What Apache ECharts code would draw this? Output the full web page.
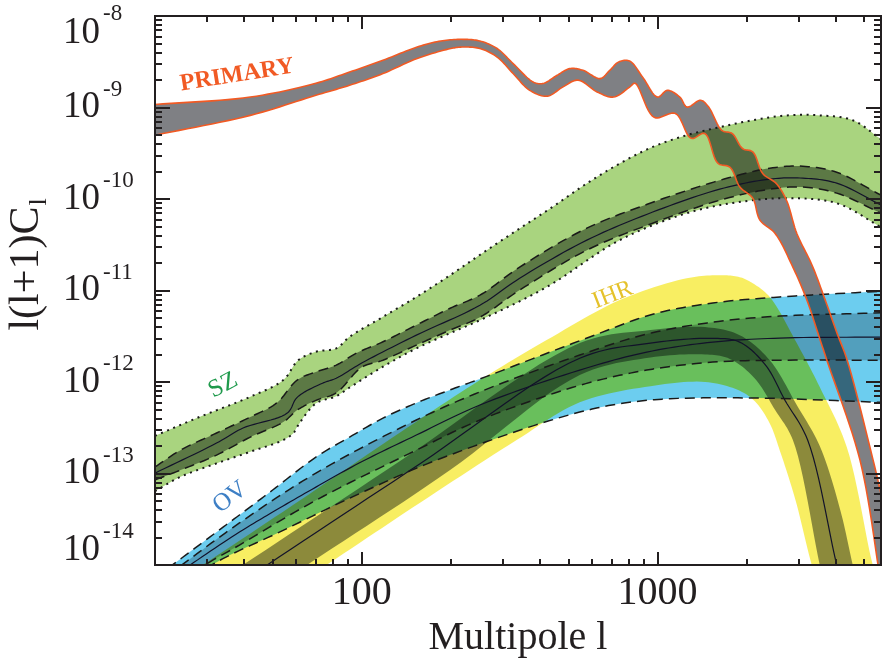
<!DOCTYPE html>
<html><head><meta charset="utf-8">
<script src="https://cdn.jsdelivr.net/npm/echarts@6/dist/echarts.min.js"></script>
<style>html,body{margin:0;padding:0;background:#fff}#c{width:882px;height:664px}</style>
</head><body><div id="c"></div>
<script>
// ---------- data: [multipole l, l(l+1)C_l] ----------
const primaryUpper = [[20,1.08e-9],[42,1.30e-9],[70,1.84e-9],[91,2.44e-9],[118,3.28e-9],[154,4.58e-9],[185,5.33e-9],[220,5.56e-9],[251,5.33e-9],[287,4.41e-9],[325,3.02e-9],[380,1.90e-9],[410,1.83e-9],[458,2.25e-9],[505,2.66e-9],[560,2.55e-9],[640,2.07e-9],[690,2.55e-9],[740,3.15e-9],[805,3.22e-9],[890,2.16e-9],[1000,1.30e-9],[1080,1.54e-9],[1190,1.30e-9],[1260,1.01e-9],[1400,1.20e-9],[1490,1.01e-9],[1650,5.63e-10],[1790,5.19e-10],[1940,3.56e-10],[2100,3.27e-10],[2270,1.90e-10],[2520,1.48e-10],[2730,9.7e-11],[2960,4.2e-11],[3330,1.9e-11],[3690,7.9e-12],[4050,3.4e-12],[4380,1.73e-12],[5360,1.4e-13],[5700,6e-14]];
const primaryLower = [[20,4.98e-10],[42,8.2e-10],[70,1.36e-9],[91,1.75e-9],[118,2.35e-9],[154,3.43e-9],[200,4.41e-9],[220,4.58e-9],[251,4.41e-9],[287,3.56e-9],[325,2.35e-9],[370,1.54e-9],[424,1.33e-9],[478,1.67e-9],[539,1.99e-9],[625,1.48e-9],[711,1.30e-9],[805,1.67e-9],[840,1.84e-9],[975,7.8e-10],[1150,8.6e-10],[1300,4.6e-10],[1445,5.2e-10],[1600,2.46e-10],[1760,2.22e-10],[1900,1.35e-10],[2100,1.02e-10],[2220,5.9e-11],[2500,4.2e-11],[2870,1.8e-11],[3200,7.9e-12],[3490,3.4e-12],[3740,1.73e-12],[4840,1.4e-13],[5570,1e-14],[5700,6e-15]];

const szOuterUpper = [[20,2.58e-13],[28.4,4.17e-13],[42,6.9e-13],[54.3,1.05e-12],[61,1.73e-12],[70,2.14e-12],[82,2.33e-12],[91,3.12e-12],[118,5.15e-12],[153,8.5e-12],[199,1.47e-11],[265,2.76e-11],[342,4.76e-11],[442,8.2e-11],[577,1.48e-10],[745,2.44e-10],[964,3.71e-10],[1256,4.98e-10],[1624,6.1e-10],[2099,7.26e-10],[2736,8.2e-10],[3538,8.2e-10],[4574,7.26e-10],[5700,4.5e-10]];
const szOuterLower = [[20,6.4e-14],[24.4,9.2e-14],[32.3,1.29e-13],[42,1.73e-13],[54.3,2.32e-13],[58.8,2.77e-13],[60.5,3.24e-13],[70,5.84e-13],[82,7.0e-13],[91,8.7e-13],[118,1.47e-12],[153,2.33e-12],[199,3.42e-12],[251,4.74e-12],[422,1.09e-11],[745,3.55e-11],[1256,7.0e-11],[1858,9.2e-11],[2736,1.02e-10],[4038,9.0e-11],[5700,4.92e-11]];
const szInnerUpper = [[20,1.18e-13],[24.4,1.80e-13],[32.3,2.77e-13],[42,4.14e-13],[51.6,5.9e-13],[60.5,1.05e-12],[70,1.29e-12],[82,1.53e-12],[96,2.07e-12],[118,2.75e-12],[153,4.19e-12],[199,6.4e-12],[251,8.9e-12],[342,1.80e-11],[577,4.8e-11],[964,9.2e-11],[1624,1.60e-10],[2397,2.17e-10],[3099,2.28e-10],[4038,1.96e-10],[5700,1.10e-10]];
const szInnerLower = [[20,8.5e-14],[24.4,1.09e-13],[32.3,1.59e-13],[42,2.50e-13],[54.3,3.65e-13],[60.5,4.93e-13],[70,6.3e-13],[82,7.6e-13],[100,1.45e-12],[118,1.73e-12],[153,2.53e-12],[199,3.69e-12],[251,5.1e-12],[342,1.01e-11],[577,2.76e-11],[964,5.44e-11],[1624,9.7e-11],[2397,1.28e-10],[3099,1.35e-10],[4038,1.16e-10],[5700,7.0e-11]];
const szCenter = [[20,1.01e-13],[32.3,2.15e-13],[39.7,3.14e-13],[56,4.57e-13],[60.5,6.8e-13],[73.7,9.7e-13],[82,1.10e-12],[100,1.61e-12],[153,3.25e-12],[251,6.9e-12],[342,1.36e-11],[577,3.55e-11],[964,7.2e-11],[1624,1.28e-10],[2397,1.65e-10],[3099,1.69e-10],[4038,1.49e-10],[5700,8.6e-11]];

const ovOuterUpper = [[20,7.2e-15],[30,1.92e-14],[38.6,3.52e-14],[50,6.6e-14],[70,1.51e-13],[91,2.50e-13],[118,4.03e-13],[153,5.9e-13],[199,8.2e-13],[251,1.08e-12],[590,3.1e-12],[964,5.5e-12],[1538,7.3e-12],[2590,8.5e-12],[5700,9.8e-12]];
const ovInnerUpper = [[20,6.05e-15],[38.6,2.88e-14],[70,1.01e-13],[153,3.84e-13],[251,7.8e-13],[546,1.97e-12],[920,3.34e-12],[1538,4.51e-12],[2590,5.25e-12],[5700,5.7e-12]];
const ovCenter = [[20,5.3e-15],[26.3,1e-14],[38.6,2.29e-14],[50,3.79e-14],[70,7.1e-14],[98,1.30e-13],[153,2.63e-13],[251,5.6e-13],[546,1.35e-12],[920,2.12e-12],[1538,2.73e-12],[2590,3.02e-12],[5700,3.1e-12]];
const ovInnerLower = [[20,4.15e-15],[29.5,1e-14],[38.6,1.65e-14],[70,5.1e-14],[153,1.80e-13],[251,3.84e-13],[546,9.2e-13],[920,1.35e-12],[1538,1.65e-12],[2590,1.73e-12],[5700,1.73e-12]];
const ovOuterLower = [[20,3.5e-15],[31.1,1.0e-14],[52.9,2.3e-14],[98,6.0e-14],[184,1.45e-13],[546,4.69e-13],[920,6.3e-13],[2004,6.7e-13],[5700,6.0e-13]];

const ihrOuterUpper = [[20,4.5e-15],[29,1e-14],[61.9,5.1e-14],[134,2.77e-13],[251,1.05e-12],[422,2.87e-12],[745,7.85e-12],[1256,1.36e-11],[1624,1.47e-11],[1897,1.40e-11],[2099,1.20e-11],[2397,8.5e-12],[2958,2.66e-12],[3538,8.8e-13],[4365,1.95e-13],[5346,1e-14],[5700,5.3e-15]];
const ihrInnerUpper = [[20,2.4e-15],[39.6,1e-14],[134,1.35e-13],[546,2.66e-12],[947,3.69e-12],[1450,3.98e-12],[1897,3.25e-12],[2397,1.73e-12],[2958,5.6e-13],[3538,2.0e-13],[4150,4e-14],[4574,1e-14],[5000,3e-15]];
const ihrCenter = [[20,1.5e-15],[47.9,1e-14],[157,1.27e-13],[546,1.82e-12],[947,2.66e-12],[1538,3.0e-12],[1897,2.73e-12],[2320,1.53e-12],[2700,6.3e-13],[3220,2.32e-13],[4038,1e-14],[4500,2.5e-15]];
const ihrInnerLower = [[20,8.1e-16],[65.3,1e-14],[199,1.09e-13],[546,1.19e-12],[947,1.85e-12],[1450,2.0e-12],[1750,1.8e-12],[2130,1.1e-12],[2500,4.93e-13],[2870,2.32e-13],[3538,1e-14],[3900,2.5e-15]];
const ihrOuterLower = [[20,5.8e-16],[76,1e-14],[157,4.76e-14],[334,2.32e-13],[546,6.0e-13],[947,9.0e-13],[1450,1.0e-12],[1900,8.0e-13],[2150,6.0e-13],[2400,3.5e-13],[2590,1.8e-13],[2930,5.1e-14],[3325,1e-14],[3800,2.5e-15]];

// axis ticks / labels
const xMajor = [100, 1000];
const xMinor = [30,40,50,60,70,80,90,200,300,400,500,600,700,800,900,2000,3000,4000,5000];
const yMajor = [1e-14,1e-13,1e-12,1e-11,1e-10,1e-9,1e-8];
const yMinor = [];
[-14,-13,-12,-11,-10,-9].forEach(e => { for (let m = 2; m <= 9; m++) yMinor.push(m * Math.pow(10, e)); });
const xTitle = 'Multipole l';
const yTitle = ['l(l+1)C', 'l'];
const curveLabels = [
  {text:'PRIMARY', l:37.9, v:2.25e-9, color:'#f15a24', size:24, bold:true, rot:9},
  {text:'SZ', l:34, v:9.2e-13, color:'#1f9a4c', size:25, rot:28},
  {text:'OV', l:35.9, v:5.5e-14, color:'#3d7fc5', size:25, rot:38},
  {text:'IHR', l:706, v:8.9e-12, color:'#e5c22b', size:24, rot:21}
];

// ---------- rendering helpers ----------
const SERIF = "'Liberation Serif','Times New Roman',serif";
const INK = '#231f20';
function spline(pts, seg) {
  if (pts.length < 3) return pts;
  const out = [];
  const d = (a, b) => Math.max(Math.pow(Math.hypot(b[0]-a[0], b[1]-a[1]), 0.5), 1e-4);
  const mix = (a, b, wa, wb) => [a[0]*wa + b[0]*wb, a[1]*wa + b[1]*wb];
  for (let i = 0; i < pts.length - 1; i++) {
    const p1 = pts[i], p2 = pts[i+1];
    const p0 = pts[i-1] || [2*p1[0]-p2[0], 2*p1[1]-p2[1]];
    const p3 = pts[i+2] || [2*p2[0]-p1[0], 2*p2[1]-p1[1]];
    const t0 = 0, t1 = d(p0,p1), t2 = t1 + d(p1,p2), t3 = t2 + d(p2,p3);
    for (let k = 0; k < seg; k++) {
      const t = t1 + (t2 - t1) * k / seg;
      const A1 = mix(p0, p1, (t1-t)/(t1-t0), (t-t0)/(t1-t0));
      const A2 = mix(p1, p2, (t2-t)/(t2-t1), (t-t1)/(t2-t1));
      const A3 = mix(p2, p3, (t3-t)/(t3-t2), (t-t2)/(t3-t2));
      const B1 = mix(A1, A2, (t2-t)/(t2-t0), (t-t0)/(t2-t0));
      const B2 = mix(A2, A3, (t3-t)/(t3-t1), (t-t1)/(t3-t1));
      out.push(mix(B1, B2, (t2-t)/(t2-t1), (t-t1)/(t2-t1)));
    }
  }
  out.push(pts[pts.length-1]);
  return out;
}
function px(api, arr) { return spline(arr.map(p => api.coord(p)), 12); }
function bandFill(upper, lower, color) {
  return {
    type:'custom', coordinateSystem:'cartesian2d', clip:true, silent:true, blendMode:'multiply',
    data: upper.concat(lower.slice().reverse()),
    renderItem(params, api) {
      if (params.dataIndex !== 0) return null;
      const up = px(api, upper), lo = px(api, lower).reverse();
      return {type:'polygon', shape:{points: up.concat(lo)}, style:{fill: color}};
    }
  };
}
function curve(arr, style) {
  return {
    type:'custom', coordinateSystem:'cartesian2d', clip:true, silent:true, data: arr,
    renderItem(params, api) {
      if (params.dataIndex !== 0) return null;
      return {type:'polyline', shape:{points: px(api, arr)},
        style: Object.assign({fill:'none', stroke:'#111', lineWidth:1.2}, style)};
    }
  };
}
const dotted = {stroke:'#1a1a1a', lineWidth:2, lineDash:[2,4.6]};
const dashed = {stroke:'#1a1a1a', lineWidth:1.5, lineDash:[10,6]};
const solid = {stroke:'#12122a', lineWidth:1.2};
const orange = {stroke:'#f15a24', lineWidth:1.6};

const series = [
  bandFill(primaryUpper, primaryLower, '#7f8084'),
  bandFill(szOuterUpper, szOuterLower, '#a9d47f'),
  bandFill(szInnerUpper, szInnerLower, '#8a928a'),
  bandFill(ovOuterUpper, ovOuterLower, '#6ccdef'),
  bandFill(ovInnerUpper, ovInnerLower, '#c2c6ca'),
  bandFill(ihrOuterUpper, ihrOuterLower, '#f8ee62'),
  bandFill(ihrInnerUpper, ihrInnerLower, '#90949a'),
  curve(ihrCenter, solid),
  curve(ovOuterUpper, dashed), curve(ovOuterLower, dashed),
  curve(ovInnerUpper, dashed), curve(ovInnerLower, dashed),
  curve(ovCenter, solid),
  curve(szOuterUpper, dotted), curve(szOuterLower, dotted),
  curve(szInnerUpper, dashed), curve(szInnerLower, dashed),
  curve(szCenter, solid),
  curve(primaryUpper, orange), curve(primaryLower, orange)
];

// ---------- axes ----------
const GRID = {left:155, top:16, width:726, height:549, containLabel:false, outerBoundsMode:'none'};
function xAx(grid, pos, vals, len, extra) {
  return Object.assign({
    gridIndex:grid, type:'log', min:20, max:5700, position:pos, z:10,
    axisLine:{show:true, lineStyle:{color:INK, width:2}},
    axisTick:{show:true, inside:true, length:len, customValues:vals, lineStyle:{color:INK, width:2}},
    axisLabel:{show:false}, splitLine:{show:false}, minorTick:{show:false}
  }, extra || {});
}
function yAx(grid, pos, vals, len, extra) {
  return Object.assign({
    gridIndex:grid, type:'log', min:1e-14, max:1e-8, position:pos, z:10,
    axisLine:{show:true, lineStyle:{color:INK, width:2}},
    axisTick:{show:true, inside:true, length:len, customValues:vals, lineStyle:{color:INK, width:2}},
    axisLabel:{show:false}, splitLine:{show:false}, minorTick:{show:false}
  }, extra || {});
}
function bS(lh, pt) { return {fontFamily:SERIF, fontSize:37, lineHeight:lh, color:INK, verticalAlign:'top', padding:[pt,0,0,0]}; }
function sS(pt) { return {fontFamily:SERIF, fontSize:23, lineHeight:23, color:INK, verticalAlign:'top', padding:[pt,0,0,3]}; }
const option = {
  backgroundColor:'#ffffff',
  animation:false,
  grid:[Object.assign({}, GRID), Object.assign({}, GRID)],
  xAxis:[
    xAx(0, 'bottom', xMajor, 13, {
      axisLabel:{show:true, customValues:xMajor, margin:8, fontFamily:SERIF, fontSize:40, color:INK, formatter: v => String(Math.round(v))},
      name:xTitle, nameLocation:'middle', nameGap:53,
      nameTextStyle:{fontFamily:SERIF, fontSize:40, color:INK}
    }),
    xAx(0, 'top', xMajor, 13),
    xAx(1, 'bottom', xMinor, 6),
    xAx(1, 'top', xMinor, 6)
  ],
  yAxis:[
    yAx(0, 'left', yMajor, 15, {
      axisLabel:{show:true, customValues:yMajor, align:'left', margin:92,
        formatter: v => { const e = Math.round(Math.log10(v)); const k = e === -8 ? 't' : (e === -14 ? 'm' : ''); return '{b' + k + '|10}{s' + k + '|' + e + '}'; },
        rich:{
          b:bS(59, 11), s:sS(0),
          bt:bS(32, 14.5), st:sS(2.5),
          bm:bS(90, 12), sm:sS(0)
        }},
      name:'{a|' + yTitle[0] + '}{sub|' + yTitle[1] + '}', nameLocation:'middle', nameRotate:90, nameGap:100,
      nameTextStyle:{rich:{
        a:{fontFamily:SERIF, fontSize:42, lineHeight:42, color:INK, verticalAlign:'top', padding:[0,0,0,52]},
        sub:{fontFamily:SERIF, fontSize:26, lineHeight:26, color:INK, verticalAlign:'top', padding:[20,0,0,1]}
      }}
    }),
    yAx(0, 'right', yMajor, 15),
    yAx(1, 'left', yMinor, 7),
    yAx(1, 'right', yMinor, 7)
  ],
  series: series
};
const chart = echarts.init(document.getElementById('c'), null, {renderer:'canvas'});
chart.setOption(option);
chart.setOption({graphic: curveLabels.map(t => {
  const p = chart.convertToPixel({xAxisIndex:0, yAxisIndex:0}, [t.l, t.v]);
  return {type:'text', x:p[0], y:p[1], rotation:t.rot*Math.PI/180, z:100, silent:true,
    style:{text:t.text, fill:t.color, fontFamily:SERIF, fontSize:t.size, fontWeight:t.bold ? 'bold' : 'normal', align:'center', verticalAlign:'middle'}};
})});
</script></body></html>
